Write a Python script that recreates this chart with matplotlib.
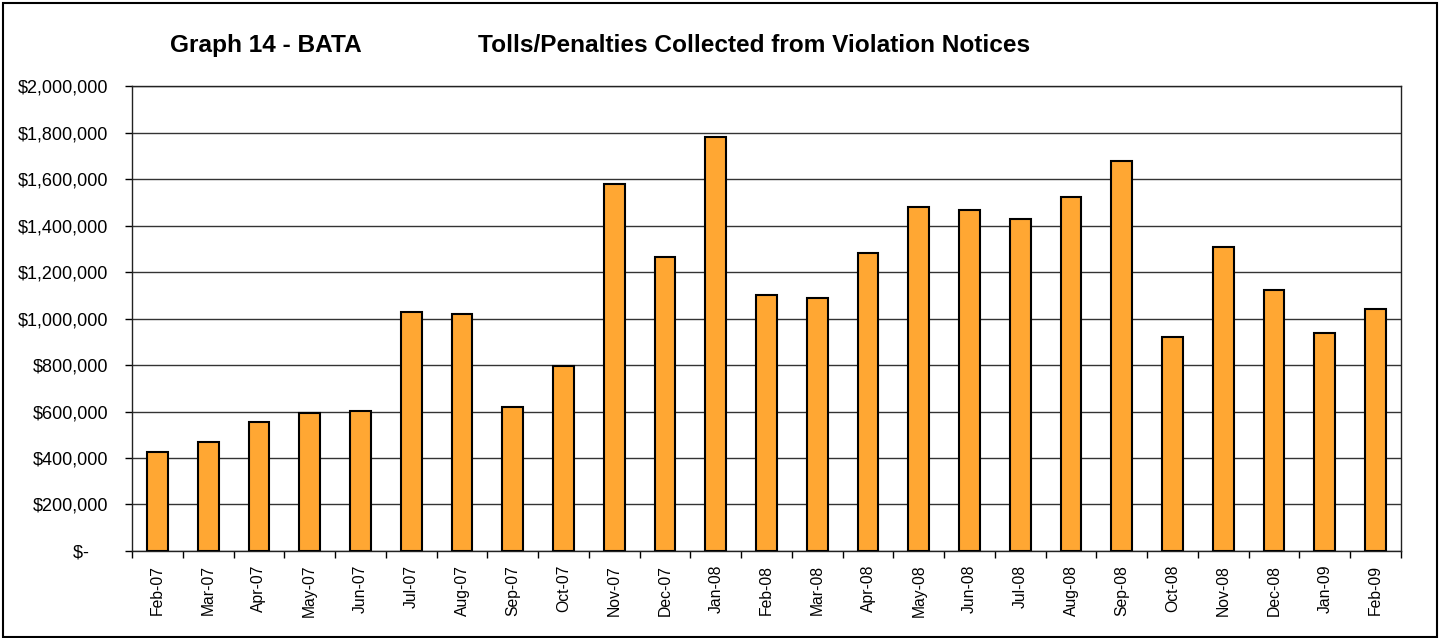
import matplotlib.pyplot as plt
from matplotlib.patches import Rectangle
from matplotlib.ticker import FuncFormatter, FixedLocator
import numpy as np

plt.rcParams['font.family'] = ['Liberation Sans', 'DejaVu Sans']

# Monthly values
months = ['Feb-07', 'Mar-07', 'Apr-07', 'May-07', 'Jun-07', 'Jul-07', 'Aug-07',
          'Sep-07', 'Oct-07', 'Nov-07', 'Dec-07', 'Jan-08', 'Feb-08', 'Mar-08',
          'Apr-08', 'May-08', 'Jun-08', 'Jul-08', 'Aug-08', 'Sep-08', 'Oct-08',
          'Nov-08', 'Dec-08', 'Jan-09', 'Feb-09']
collected = [426000, 467000, 555000, 593000, 604000, 1028000, 1020000,
             621000, 796000, 1577000, 1266000, 1783000, 1102000, 1090000,
             1280000, 1482000, 1466000, 1429000, 1522000, 1677000, 921000,
             1306000, 1124000, 938000, 1040000]
y_ticks = [0, 200000, 400000, 600000, 800000, 1000000, 1200000, 1400000,
           1600000, 1800000, 2000000]

fig = plt.figure(figsize=(14.4, 6.38), dpi=100)
ax = fig.add_axes([0.0917, 0.1364, 0.8812, 0.7286])

x = np.arange(len(months))
ax.bar(x, collected, width=0.41, color='#FFA733', edgecolor='black',
       linewidth=1.5, zorder=3)

ax.set_xlim(-0.5, len(months) - 0.5)
ax.set_ylim(0, 2000000)
ax.set_yticks(y_ticks)
ax.yaxis.set_major_formatter(FuncFormatter(
    lambda v, p: '$-    ' if v == 0 else '${:,.0f}'.format(v)))
ax.grid(axis='y', color='#333333', linewidth=1, zorder=0)

# category labels at centres, tick marks between categories
ax.set_xticks(x)
ax.set_xticklabels(months, rotation=90, fontsize=11.3)
ax.tick_params(axis='x', which='major', length=0, pad=10)
ax.xaxis.set_minor_locator(FixedLocator(np.arange(-0.5, len(months), 1)))
ax.tick_params(axis='x', which='minor', length=5, width=1, direction='out')
ax.tick_params(axis='y', labelsize=13, length=5, width=1, pad=12)

for s in ax.spines.values():
    s.set_color('#222222')
    s.set_linewidth(1)

fig.text(0.1847, 0.929, 'Graph 14 - BATA', fontsize=17.6, fontweight='bold',
         ha='center', va='center')
fig.text(0.5236, 0.929, 'Tolls/Penalties Collected from Violation Notices',
         fontsize=17.6, fontweight='bold', ha='center', va='center')

fig.patches.append(Rectangle((0.002, 0.002), 0.996, 0.994, transform=fig.transFigure,
                             fill=False, edgecolor='black', linewidth=1.5))

fig.savefig('out.png', dpi=100)
